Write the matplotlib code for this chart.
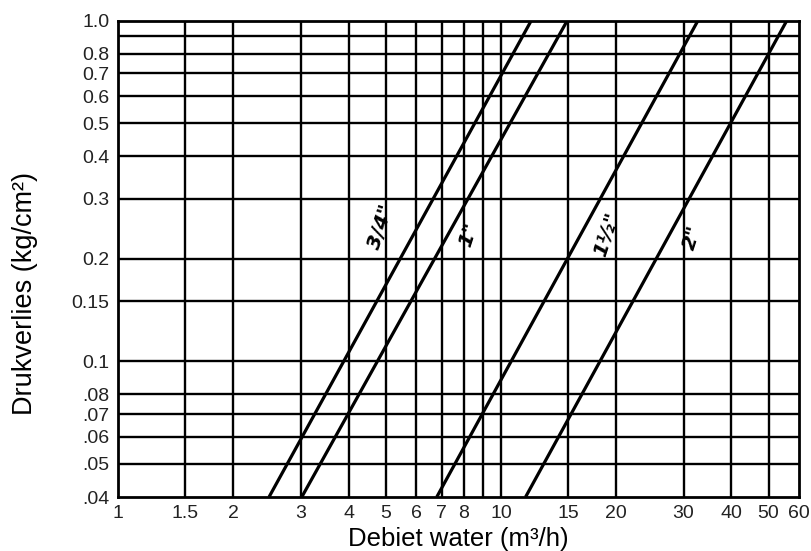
import matplotlib
matplotlib.use("Agg")
import matplotlib.pyplot as plt
from matplotlib.ticker import FixedLocator, FixedFormatter, NullLocator

plt.rcParams["font.family"] = ["Liberation Sans", "DejaVu Sans"]

# ----------------------------
# data
# ----------------------------
x_grid = [1.5, 2, 3, 4, 5, 6, 7, 8, 9, 10, 15, 20, 30, 40, 50]
x_ticks = [1, 1.5, 2, 3, 4, 5, 6, 7, 8, 10, 15, 20, 30, 40, 50, 60]
x_labels = ["1", "1.5", "2", "3", "4", "5", "6", "7", "8", "10", "15", "20", "30", "40", "50", "60"]

y_grid = [0.05, 0.06, 0.07, 0.08, 0.1, 0.15, 0.2, 0.3, 0.4, 0.5, 0.6, 0.7, 0.8, 0.9]
y_ticks = [0.04, 0.05, 0.06, 0.07, 0.08, 0.1, 0.15, 0.2, 0.3, 0.4, 0.5, 0.6, 0.7, 0.8, 1.0]
y_labels = [".04", ".05", ".06", ".07", ".08", "0.1", "0.15", "0.2", "0.3", "0.4", "0.5", "0.6", "0.7", "0.8", "1.0"]

# pipe sizes: flow (m3/h) at 0.04 and at 1.0 kg/cm2
pipes = ["3/4\"", "1\"", "1½\"", "2\""]
dp_ends = [0.04, 1.0]
q_ends = {
    "3/4\"": [2.48, 12.0],
    "1\"": [3.02, 14.9],
    "1½\"": [6.8, 32.7],
    "2\"": [11.6, 55.8],
}
# label anchor (flow, pressure)
label_pos = {
    "3/4\"": (4.86, 0.249),
    "1\"": (8.25, 0.235),
    "1½\"": (19.0, 0.236),
    "2\"": (31.7, 0.231),
}

# ----------------------------
# plot
# ----------------------------
fig = plt.figure(figsize=(8.11, 5.51), dpi=100)
ax = fig.add_axes([0.1455, 0.098, 0.8395, 0.8645])
ax.set_xscale("log")
ax.set_yscale("log")
ax.set_xlim(1, 60)
ax.set_ylim(0.04, 1.0)

for xv in x_grid:
    ax.axvline(xv, color="black", lw=1.7, zorder=1)
for yv in y_grid:
    ax.axhline(yv, color="black", lw=1.7, zorder=1)

for p in pipes:
    ax.plot(q_ends[p], dp_ends, color="black", lw=2.3, zorder=3, solid_capstyle="butt")
    lx, ly = label_pos[p]
    ax.text(lx, ly, p, rotation=72, ha="center", va="center", fontsize=14.5,
            fontweight="bold", fontstyle="italic", family=["DejaVu Sans"], zorder=4)

ax.xaxis.set_major_locator(FixedLocator(x_ticks))
ax.xaxis.set_major_formatter(FixedFormatter(x_labels))
ax.xaxis.set_minor_locator(NullLocator())
ax.yaxis.set_major_locator(FixedLocator(y_ticks))
ax.yaxis.set_major_formatter(FixedFormatter(y_labels))
ax.yaxis.set_minor_locator(NullLocator())
ax.tick_params(axis="both", length=0, labelsize=14, colors="#222222")
ax.tick_params(axis="x", pad=6)
ax.tick_params(axis="y", pad=6)

for s in ax.spines.values():
    s.set_linewidth(2.0)

ax.set_xlabel("Debiet water (m³/h)", fontsize=18.5)
ax.xaxis.set_label_coords(0.5, -0.062)
ax.set_ylabel("Drukverlies (kg/cm²)", fontsize=19.5)
ax.yaxis.set_label_coords(-0.117, 0.428)

plt.savefig("out.png", dpi=100)
